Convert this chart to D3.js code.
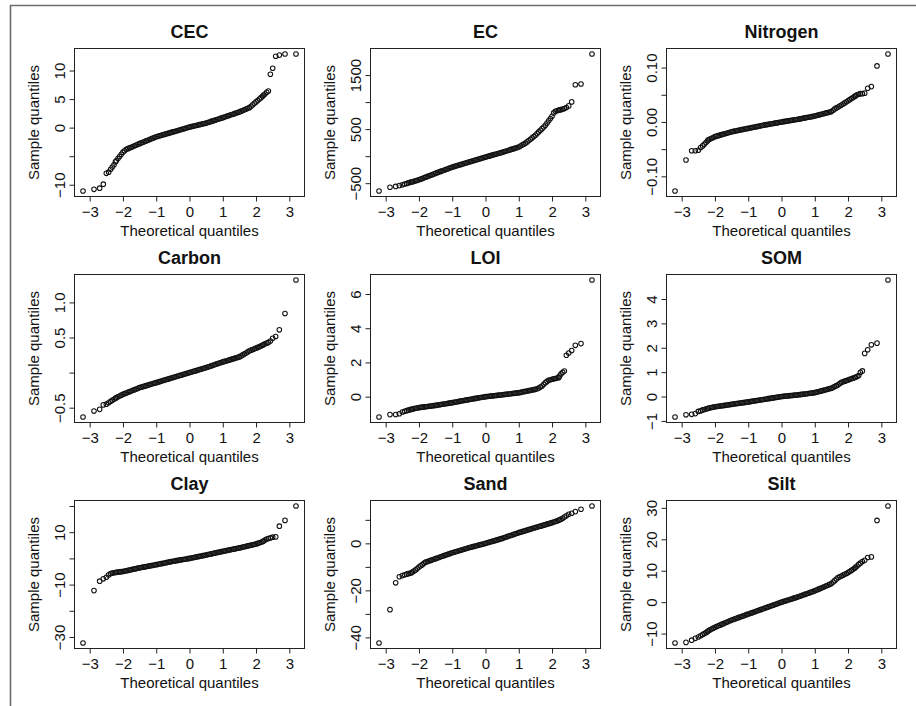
<!DOCTYPE html>
<html lang="en">
<head>
<meta charset="UTF-8">
<title>Normal Q-Q plots</title>
<script src="https://cdn.jsdelivr.net/npm/d3@7"></script>
<style>
    body { margin:0; background:#fff; }
    svg text { font-family:"Liberation Sans", Arial, Helvetica, sans-serif; fill:#111; }
</style>
</head>
<body>
<svg width="916" height="706"></svg>
<script>
    // theoretical quantiles: the 10 lowest ranks, a 0.05 grid through the body, the 10 highest ranks
    var theoLow = [-3.2,-2.87,-2.7,-2.59,-2.5,-2.43,-2.37,-2.32,-2.27,-2.225];
    var theoBody = [
        -2.2,-2.15,-2.1,-2.05,-2,-1.95,-1.9,-1.85,-1.8,-1.75,
        -1.7,-1.65,-1.6,-1.55,-1.5,-1.45,-1.4,-1.35,-1.3,-1.25,
        -1.2,-1.15,-1.1,-1.05,-1,-0.95,-0.9,-0.85,-0.8,-0.75,
        -0.7,-0.65,-0.6,-0.55,-0.5,-0.45,-0.4,-0.35,-0.3,-0.25,
        -0.2,-0.15,-0.1,-0.05,0,0.05,0.1,0.15,0.2,0.25,
        0.3,0.35,0.4,0.45,0.5,0.55,0.6,0.65,0.7,0.75,
        0.8,0.85,0.9,0.95,1,1.05,1.1,1.15,1.2,1.25,
        1.3,1.35,1.4,1.45,1.5,1.55,1.6,1.65,1.7,1.75,
        1.8,1.85,1.9,1.95,2,2.05,2.1,2.15,2.2];
    var theoHigh = [2.225,2.27,2.32,2.37,2.43,2.5,2.59,2.7,2.87,3.2];
    var theo = theoLow.concat(theoBody, theoHigh);

    // sample quantiles, same order as theo
    var cec = [-11.1,-10.8,-10.6,-9.9,-8.0,-7.8,-7.3,-6.9,-6.5,-6.0,
        -5.8,-5.42,-5.05,-4.68,-4.3,-4.05,-3.8,-3.68,-3.55,-3.43,
        -3.3,-3.18,-3.05,-2.93,-2.8,-2.68,-2.56,-2.44,-2.32,-2.2,
        -2.08,-1.96,-1.84,-1.72,-1.6,-1.52,-1.43,-1.35,-1.26,-1.18,
        -1.09,-1.01,-0.92,-0.84,-0.75,-0.67,-0.58,-0.5,-0.41,-0.33,
        -0.24,-0.16,-0.07,0.02,0.1,0.17,0.24,0.31,0.38,0.45,
        0.52,0.59,0.66,0.73,0.8,0.9,0.99,1.09,1.18,1.28,
        1.37,1.47,1.56,1.66,1.75,1.85,1.95,2.05,2.15,2.25,
        2.35,2.45,2.55,2.65,2.75,2.88,3.0,3.13,3.25,3.38,
        3.5,3.75,4.0,4.25,4.5,4.75,5.0,5.25,5.5,
        5.7,5.9,6.2,6.4,9.35,10.4,12.5,12.7,12.9,12.9];
    var ec = [-645,-575,-560,-545,-530,-515,-505,-495,-485,-478,
        -475,-466,-456,-447,-437,-425,-413,-401,-389,-378,
        -366,-354,-342,-330,-318,-306,-295,-283,-272,-260,
        -249,-237,-226,-214,-203,-194,-184,-175,-166,-157,
        -147,-138,-129,-119,-110,-101,-91,-82,-73,-63,
        -54,-45,-36,-26,-17,-8,0,9,18,27,
        35,44,53,61,70,80,90,100,110,120,
        129,139,149,159,169,187,205,222,240,264,
        289,313,337,362,386,417,448,479,509,540,
        571,613,655,697,739,800,830,840,850,
        855,860,870,880,900,930,1004,1320,1335,1890];
    var nitrogen = [-0.127,-0.07,-0.053,-0.053,-0.052,-0.047,-0.044,-0.041,-0.038,-0.035,
        -0.033,-0.0315,-0.03,-0.0285,-0.027,-0.0261,-0.0252,-0.0243,-0.0234,-0.0225,
        -0.0216,-0.0207,-0.0198,-0.0189,-0.018,-0.0174,-0.0167,-0.0161,-0.0154,-0.0148,
        -0.0142,-0.0136,-0.0129,-0.0123,-0.0117,-0.0111,-0.0105,-0.0098,-0.0092,-0.0086,
        -0.008,-0.0074,-0.0067,-0.0061,-0.0055,-0.005,-0.0044,-0.0039,-0.0033,-0.0028,
        -0.0022,-0.0017,-0.0011,-0.0006,0,0.0005,0.001,0.0015,0.002,0.0025,
        0.003,0.0035,0.004,0.0045,0.005,0.0056,0.0062,0.0068,0.0074,0.008,
        0.0086,0.0092,0.0098,0.0104,0.011,0.0118,0.0126,0.0134,0.0142,0.015,
        0.0158,0.0166,0.0174,0.0182,0.019,0.0215,0.024,0.0258,0.0275,0.0293,
        0.031,0.033,0.035,0.037,0.039,0.041,0.043,0.045,0.047,
        0.048,0.05,0.051,0.052,0.052,0.053,0.062,0.065,0.103,0.125];
    var carbon = [-0.633,-0.548,-0.524,-0.46,-0.45,-0.43,-0.41,-0.395,-0.38,-0.365,
        -0.357,-0.345,-0.333,-0.322,-0.31,-0.3,-0.291,-0.281,-0.272,-0.262,
        -0.252,-0.243,-0.233,-0.224,-0.214,-0.207,-0.2,-0.193,-0.186,-0.179,
        -0.171,-0.164,-0.157,-0.15,-0.143,-0.136,-0.129,-0.121,-0.114,-0.107,
        -0.1,-0.093,-0.085,-0.078,-0.071,-0.064,-0.057,-0.05,-0.043,-0.036,
        -0.028,-0.021,-0.014,-0.007,0,0.007,0.014,0.021,0.028,0.036,
        0.043,0.05,0.057,0.064,0.071,0.079,0.087,0.095,0.104,0.112,
        0.12,0.128,0.136,0.144,0.152,0.159,0.166,0.173,0.181,0.188,
        0.195,0.202,0.21,0.217,0.224,0.238,0.252,0.266,0.28,0.295,
        0.31,0.32,0.329,0.339,0.348,0.359,0.369,0.38,0.39,
        0.4,0.41,0.42,0.43,0.45,0.49,0.514,0.61,0.843,1.32];
    var loi = [-1.19,-1.05,-1.04,-1.0,-0.9,-0.86,-0.82,-0.79,-0.76,-0.74,
        -0.72,-0.7,-0.68,-0.66,-0.64,-0.627,-0.614,-0.601,-0.588,-0.575,
        -0.562,-0.549,-0.536,-0.523,-0.51,-0.494,-0.478,-0.462,-0.446,-0.43,
        -0.414,-0.398,-0.382,-0.366,-0.35,-0.332,-0.314,-0.296,-0.278,-0.26,
        -0.242,-0.224,-0.206,-0.188,-0.17,-0.153,-0.136,-0.119,-0.102,-0.085,
        -0.068,-0.051,-0.034,-0.017,0,0.011,0.022,0.033,0.044,0.055,
        0.066,0.077,0.088,0.099,0.11,0.122,0.134,0.146,0.158,0.17,
        0.182,0.194,0.206,0.218,0.23,0.25,0.27,0.29,0.31,0.33,
        0.35,0.37,0.39,0.41,0.43,0.465,0.5,0.56,0.62,0.72,
        0.82,0.89,0.96,0.99,1.02,1.04,1.06,1.09,1.11,
        1.2,1.33,1.42,1.5,2.42,2.55,2.7,3.0,3.1,6.82];
    var som = [-0.84,-0.75,-0.73,-0.7,-0.61,-0.59,-0.55,-0.53,-0.51,-0.49,
        -0.48,-0.465,-0.45,-0.435,-0.42,-0.41,-0.4,-0.39,-0.38,-0.37,
        -0.36,-0.35,-0.34,-0.33,-0.32,-0.31,-0.3,-0.29,-0.28,-0.27,
        -0.26,-0.25,-0.24,-0.23,-0.22,-0.209,-0.198,-0.187,-0.176,-0.165,
        -0.154,-0.143,-0.132,-0.121,-0.11,-0.099,-0.088,-0.077,-0.066,-0.055,
        -0.044,-0.033,-0.022,-0.011,0,0.007,0.014,0.021,0.028,0.035,
        0.042,0.049,0.056,0.063,0.07,0.079,0.088,0.097,0.106,0.115,
        0.124,0.133,0.142,0.151,0.16,0.178,0.196,0.214,0.232,0.25,
        0.268,0.286,0.304,0.322,0.34,0.375,0.41,0.445,0.48,0.53,
        0.58,0.605,0.63,0.655,0.68,0.705,0.73,0.755,0.78,
        0.79,0.82,0.86,0.99,1.05,1.77,1.92,2.12,2.19,4.78];
    var clay = [-32.3,-12.3,-8.7,-7.8,-7.2,-6.3,-5.8,-5.6,-5.5,-5.4,
        -5.3,-5.22,-5.15,-5.08,-5,-4.86,-4.72,-4.58,-4.44,-4.3,
        -4.16,-4.02,-3.88,-3.74,-3.6,-3.48,-3.36,-3.24,-3.12,-3,
        -2.88,-2.76,-2.64,-2.52,-2.4,-2.27,-2.14,-2.01,-1.88,-1.75,
        -1.62,-1.49,-1.36,-1.23,-1.1,-0.99,-0.88,-0.77,-0.66,-0.55,
        -0.44,-0.33,-0.22,-0.11,0,0.13,0.26,0.39,0.52,0.65,
        0.78,0.91,1.04,1.17,1.3,1.44,1.58,1.72,1.86,2,
        2.14,2.28,2.42,2.56,2.7,2.83,2.96,3.09,3.22,3.35,
        3.48,3.61,3.74,3.87,4,4.15,4.3,4.45,4.6,4.75,
        4.9,5.05,5.2,5.35,5.5,5.72,5.95,6.17,6.4,
        6.6,7.0,7.4,7.6,7.8,8.1,8.2,12.3,14.5,20.0];
    var sand = [-42.4,-28.2,-16.8,-14.2,-13.7,-13.4,-13.1,-12.9,-12.7,-12.5,
        -12.2,-11.8,-11.3,-10.7,-10.1,-9.55,-9.05,-8.5,-8,-7.75,
        -7.5,-7.25,-7,-6.75,-6.5,-6.25,-6,-5.75,-5.5,-5.25,
        -5,-4.75,-4.5,-4.25,-4,-3.79,-3.57,-3.36,-3.14,-2.93,
        -2.71,-2.5,-2.28,-2.07,-1.85,-1.67,-1.48,-1.3,-1.11,-0.93,
        -0.74,-0.56,-0.37,-0.19,0,0.21,0.42,0.63,0.84,1.05,
        1.26,1.47,1.68,1.89,2.1,2.35,2.59,2.84,3.08,3.33,
        3.57,3.82,4.06,4.31,4.55,4.77,4.98,5.2,5.41,5.63,
        5.84,6.06,6.27,6.49,6.7,6.91,7.12,7.33,7.54,7.75,
        7.96,8.17,8.38,8.59,8.8,9.05,9.3,9.55,9.8,
        10.0,10.3,10.7,11.2,11.7,12.4,12.8,13.5,14.5,15.9];
    var silt = [-13.0,-12.8,-12.1,-11.5,-11.1,-10.7,-10.3,-10.0,-9.7,-9.4,
        -9.1,-8.83,-8.55,-8.28,-8,-7.77,-7.54,-7.31,-7.08,-6.85,
        -6.62,-6.39,-6.16,-5.93,-5.7,-5.51,-5.32,-5.13,-4.94,-4.75,
        -4.56,-4.37,-4.18,-3.99,-3.8,-3.61,-3.42,-3.23,-3.04,-2.85,
        -2.66,-2.47,-2.28,-2.09,-1.9,-1.71,-1.52,-1.33,-1.14,-0.95,
        -0.76,-0.57,-0.38,-0.19,0,0.17,0.34,0.51,0.68,0.85,
        1.02,1.19,1.36,1.53,1.7,1.89,2.08,2.27,2.46,2.65,
        2.84,3.03,3.22,3.41,3.6,3.83,4.06,4.29,4.52,4.75,
        4.98,5.21,5.44,5.67,5.9,6.38,6.85,7.33,7.8,8.07,
        8.33,8.6,8.87,9.13,9.4,9.75,10.1,10.45,10.8,
        11.1,11.5,12.0,12.4,12.9,13.3,14.2,14.4,26.0,30.6];

    var names = ["CEC","EC","Nitrogen","Carbon","LOI","SOM","Clay","Sand","Silt"];
    var series = [cec, ec, nitrogen, carbon, loi, som, clay, sand, silt];

    var xTicks = [-3,-2,-1,0,1,2,3];
    var yTicks = [
        [-10,-5,0,5,10], [-500,0,500,1000,1500], [-0.1,-0.05,0,0.05,0.1],
        [-0.5,0,0.5,1], [0,2,4,6], [-1,0,1,2,3,4],
        [-30,-20,-10,0,10,20], [-40,-30,-20,-10,0,10], [-10,0,10,20,30]];
    // labels R kept (the others were dropped for overlap)
    var yShown = [
        [-10,0,5,10], [-500,500,1500], [-0.1,0,0.1],
        [-0.5,0.5,1], [0,2,4,6], [-1,0,1,2,3,4],
        [-30,-10,10], [-40,-20,0], [-10,0,10,20,30]];
    var yFormats = ["d","d",".2f",".1f","d","d","d","d","d"];

    var W = 230, H = 148;
    var svg = d3.select("svg");

    // outer frame (only top and left edges are visible)
    svg.append("path")
        .attr("d","M10.5,706V5.5H916")
        .attr("fill","none")
        .attr("stroke","#6b6b6b")
        .attr("stroke-width",1.6);

    var ext = d3.extent(theo), pad = (ext[1]-ext[0])*0.04;
    var x = d3.scaleLinear().domain([ext[0]-pad, ext[1]+pad]).range([0, W]);

    names.forEach(function(name, i){
        var col = i % 3, row = Math.floor(i / 3);
        var left = 74.5 + col*296, top = 48.5 + row*226;
        var vals = series[i];
        if (vals.length !== theo.length) console.log("length mismatch", name, vals.length);

        var yext = d3.extent(vals), ypad = (yext[1]-yext[0])*0.04;
        var y = d3.scaleLinear().domain([yext[0]-ypad, yext[1]+ypad]).range([H, 0]);

        var g = svg.append("g").attr("transform","translate("+left+","+top+")");

        // points
        g.append("g").selectAll("circle")
            .data(d3.zip(theo, vals))
            .join("circle")
            .attr("cx", function(d){ return x(d[0]); })
            .attr("cy", function(d){ return y(d[1]); })
            .attr("r", 2.3)
            .attr("fill","none")
            .attr("stroke","#111")
            .attr("stroke-width",1.05);

        // box
        g.append("rect")
            .attr("width", W).attr("height", H)
            .attr("fill","none")
            .attr("stroke","#222")
            .attr("stroke-width",1);

        // x axis
        var xa = g.append("g")
            .attr("transform","translate(0,"+H+")")
            .call(d3.axisBottom(x).tickValues(xTicks).tickSize(5).tickPadding(4.5).tickFormat(d3.format("d")));
        xa.select(".domain").remove();
        xa.attr("font-size",15).attr("font-family",null).attr("color","#222");

        // y axis, labels rotated like R's default las=0
        var fmt = d3.format(yFormats[i]);
        var shown = yShown[i];
        var ya = g.append("g")
            .call(d3.axisLeft(y).tickValues(yTicks[i]).tickSize(5)
                .tickFormat(function(d){
                    return shown.some(function(s){ return Math.abs(s-d) < 1e-9; }) ? fmt(d) : "";
                }));
        ya.select(".domain").remove();
        ya.attr("font-size",15).attr("font-family",null).attr("color","#222");
        ya.selectAll("text")
            .attr("transform","rotate(-90)")
            .attr("x",0).attr("y",-10)
            .attr("dy",null)
            .attr("text-anchor","middle");

        // titles
        g.append("text")
            .attr("x", W/2).attr("y", -10.2)
            .attr("text-anchor","middle")
            .attr("font-size",18).attr("font-weight","bold")
            .text(name);
        g.append("text")
            .attr("x", W/2).attr("y", H+39)
            .attr("text-anchor","middle")
            .attr("font-size",15)
            .text("Theoretical quantiles");
        g.append("text")
            .attr("transform","translate(-35.5,"+(H/2)+") rotate(-90)")
            .attr("text-anchor","middle")
            .attr("font-size",15)
            .text("Sample quantiles");
    });
</script>
</body>
</html>
